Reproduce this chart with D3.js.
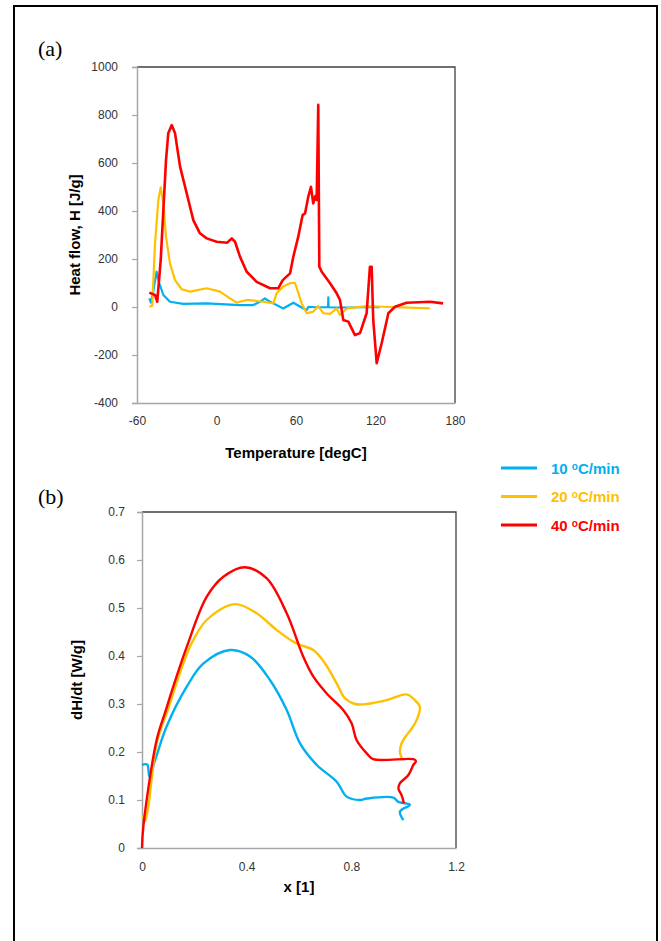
<!DOCTYPE html>
<html><head><meta charset="utf-8">
<script src="https://cdn.jsdelivr.net/npm/d3@7"></script>
<style>
body{margin:0;background:#fff;}
svg{display:block;font-family:Arial,"Liberation Sans",sans-serif;}
</style></head>
<body>
<svg id="c" width="661" height="941"></svg>
<script>
// ---------- Data ----------
const seriesNames = ["10 \u00B0C/min", "20 \u00B0C/min", "40 \u00B0C/min"];
const seriesColors = ["#00B0F0", "#FFC000", "#FF0000"];

// (a) Heat flow H [J/g] vs Temperature [degC]
const heatT10 = [-50.7,-49.5,-48,-45.2,-43.2,-40.1,-35.1,-25.1,-7.4,17.7,27.8,32.8,36.6,39.1,42.9,50.4,58,65.6,68.1,69.4,75,84.2,84.4,84.6,90,100,110,123];
const heatH10 = [36,18,57,147,99,50,22,13,15,8,8,22,36,26,15,-6,18,-6,-13,1,-1,-1,40,-1,-2,-2,-1,-1];

const heatT20 = [-50.7,-48.5,-46.4,-43.9,-42.1,-40.1,-38.1,-35.1,-31.3,-26.3,-20,-7.4,2.6,10.2,15.2,22.8,25.3,35.3,42.9,45.4,50.4,55.5,59.2,61,64.3,68.1,73.1,76.8,80.6,85.7,90.7,93.2,98.3,113.3,126,161];
const heatH20 = [1,5,265,446,499,432,293,182,112,74,64,78,64,36,18,29,29,22,15,57,85,99,101,71,15,-26,-19,4,-26,-29,-6,-33,-6,4,1,-6];

const heatT40 = [-50.7,-46.4,-44.7,-42.1,-40.1,-38.1,-36.4,-33.8,-31.3,-27.5,-22.5,-17.5,-12.5,-7.4,0.1,8.1,11.5,14,17.7,22.8,30.3,40.4,46.6,50,55.5,58,61.7,65,66.8,69.3,71.3,73,74.6,75.6,76.8,77.6,79.4,85.7,90.7,93.2,95.7,99.5,104.5,108.3,113.3,115.8,117.1,118.3,120.9,124.7,129.7,134.7,143.5,161,171];
const heatH40 = [60,50,22,196,404,612,724,758,724,585,474,362,307,286,272,268,286,272,210,147,105,78,78,112,140,210,293,383,390,460,501,432,462,446,842,168,147,99,57,29,-54,-61,-117,-109,-26,168,168,-54,-234,-150,-26,1,18,22,15];

// (b) dH/dt [W/g] vs x [1]
const rateX10 = [0,0.02,0.028,0.05,0.094,0.171,0.234,0.336,0.413,0.489,0.553,0.604,0.668,0.744,0.782,0.833,0.859,0.961,0.98,1.024,0.986,0.999];
const rateY10 = [0.173,0.174,0.149,0.183,0.253,0.336,0.384,0.4125,0.399,0.35,0.2875,0.218,0.173,0.138,0.107,0.1,0.103,0.105,0.096,0.09,0.076,0.058];

const rateX20 = [0.003,0.011,0.024,0.056,0.1,0.139,0.183,0.247,0.355,0.438,0.515,0.578,0.604,0.655,0.699,0.744,0.776,0.814,0.859,0.935,1.011,1.043,1.062,1.05,1.031,1.011,0.992,0.986,0.996];
const rateY20 = [0.069,0.055,0.086,0.218,0.29,0.355,0.419,0.475,0.508,0.489,0.454,0.43,0.423,0.4125,0.385,0.343,0.312,0.3,0.3,0.308,0.32,0.308,0.294,0.267,0.249,0.235,0.218,0.2,0.183];

const rateX40 = [0,0.005,0.056,0.09,0.12,0.171,0.247,0.311,0.394,0.476,0.553,0.616,0.655,0.706,0.769,0.801,0.82,0.859,0.884,1.037,1.047,1.037,1.018,0.986,0.98,0.992,1.001];
const rateY40 = [0,0.044,0.225,0.285,0.337,0.419,0.523,0.565,0.585,0.562,0.489,0.399,0.357,0.322,0.2875,0.26,0.225,0.197,0.185,0.185,0.181,0.173,0.152,0.135,0.124,0.11,0.093];

const tempTicks = [-60,0,60,120,180];
const heatTicks = [-400,-200,0,200,400,600,800,1000];
const xTicks = [0,0.4,0.8,1.2];
const rateTicks = [0,0.1,0.2,0.3,0.4,0.5,0.6,0.7];

// ---------- Drawing ----------
const svg = d3.select("#c");
const axisGray = "#A6A6A6";
const tickText = "#333";

svg.append("rect").attr("x",14).attr("y",6).attr("width",643).attr("height",1000)
  .attr("fill","none").attr("stroke","#000").attr("stroke-width",2);

function panel(opt){
  const x = d3.scaleLinear().domain(opt.xDomain).range([opt.left, opt.right]);
  const y = d3.scaleLinear().domain(opt.yDomain).range([opt.bottom, opt.top]);
  const g = svg.append("g");
  g.append("path").attr("d",`M${opt.left},${opt.top}H${opt.right}V${opt.bottom}`)
    .attr("fill","none").attr("stroke","#404040").attr("stroke-width",1.3);
  const ya = g.append("g").attr("transform",`translate(${opt.left},0)`)
    .call(d3.axisLeft(y).tickValues(opt.yTicks).tickSize(5).tickPadding(opt.yPad).tickFormat(opt.yFmt));
  ya.select(".domain").attr("stroke",axisGray).attr("stroke-width",1.5);
  ya.selectAll(".tick line").attr("stroke",axisGray).attr("stroke-width",1.2);
  ya.selectAll("text").attr("fill",tickText).style("font-size","12px");
  const xa = g.append("g").attr("transform",`translate(0,${opt.bottom})`)
    .call(d3.axisBottom(x).tickValues(opt.xTicks).tickSize(0).tickPadding(opt.xPad).tickFormat(opt.xFmt));
  xa.select(".domain").attr("stroke",axisGray).attr("stroke-width",1.5);
  xa.selectAll("text").attr("fill",tickText).style("font-size","12px");
  g.append("text").attr("x",(opt.left+opt.right)/2).attr("y",opt.xLabelY)
    .attr("text-anchor","middle").attr("font-weight","bold").attr("font-size","15px").attr("fill","#000")
    .text(opt.xLabel);
  g.append("text").attr("transform",`translate(${opt.yLabelX},${opt.yLabelCY}) rotate(-90)`)
    .attr("text-anchor","middle").attr("font-weight","bold").attr("font-size","15px").attr("fill","#000")
    .text(opt.yLabel);
  return {x,y,g};
}

const intFmt = d => String(d);
const decFmt = d => d===0 ? "0" : d.toFixed(1);

// (a)
svg.append("text").attr("x",38).attr("y",56).attr("font-family","'Liberation Serif','Times New Roman',serif")
  .attr("font-size","22px").text("(a)");
const pa = panel({xDomain:[-60,180], yDomain:[-400,1000], left:137, right:455, top:67, bottom:403,
  yTicks:heatTicks, xTicks:tempTicks, yPad:14, xPad:13, yFmt:intFmt, xFmt:intFmt,
  xLabel:"Temperature [degC]", xLabelY:458, yLabel:"Heat flow, H [J/g]", yLabelX:80, yLabelCY:235});
const heatSeries = [[heatT10,heatH10],[heatT20,heatH20],[heatT40,heatH40]];
const lineA = d3.line().x(d=>pa.x(d[0])).y(d=>pa.y(d[1]));
heatSeries.forEach((s,i)=>{
  const pts = s[0].map((t,k)=>[t,s[1][k]]);
  pa.g.append("path").datum(pts).attr("d",lineA).attr("fill","none")
    .attr("stroke",seriesColors[i]).attr("stroke-width", i===2?2.6:2.2).attr("stroke-linejoin","round");
});

// (b)
svg.append("text").attr("x",38).attr("y",504).attr("font-family","'Liberation Serif','Times New Roman',serif")
  .attr("font-size","22px").text("(b)");
const pb = panel({xDomain:[0,1.2], yDomain:[0,0.7], left:142, right:456, top:512, bottom:848,
  yTicks:rateTicks, xTicks:xTicks, yPad:12, xPad:14, yFmt:decFmt, xFmt:decFmt,
  xLabel:"x [1]", xLabelY:892, yLabel:"dH/dt [W/g]", yLabelX:82, yLabelCY:680});
const rateSeries = [[rateX10,rateY10],[rateX20,rateY20],[rateX40,rateY40]];
const lineB = d3.line().x(d=>pb.x(d[0])).y(d=>pb.y(d[1])).curve(d3.curveCatmullRom.alpha(0.5));
rateSeries.forEach((s,i)=>{
  const pts = s[0].map((t,k)=>[t,s[1][k]]);
  pb.g.append("path").datum(pts).attr("d",lineB).attr("fill","none")
    .attr("stroke",seriesColors[i]).attr("stroke-width",2.4).attr("stroke-linejoin","round");
});

// legend
const lg = svg.append("g");
seriesNames.forEach((n,i)=>{
  const yy = 468 + i*28.5;
  lg.append("line").attr("x1",501).attr("x2",537).attr("y1",yy).attr("y2",yy)
    .attr("stroke",seriesColors[i]).attr("stroke-width",3);
  const parts = n.split(" ");
  const t = lg.append("text").attr("x",551).attr("y",yy+5.5).attr("fill",seriesColors[i])
    .attr("font-weight","bold").attr("font-size","15px");
  t.append("tspan").text(parts[0]+" ");
  t.append("tspan").attr("font-size","10px").attr("dy",-4).text("o");
  t.append("tspan").attr("dy",4).text("C/min");
});
</script>
</body></html>
